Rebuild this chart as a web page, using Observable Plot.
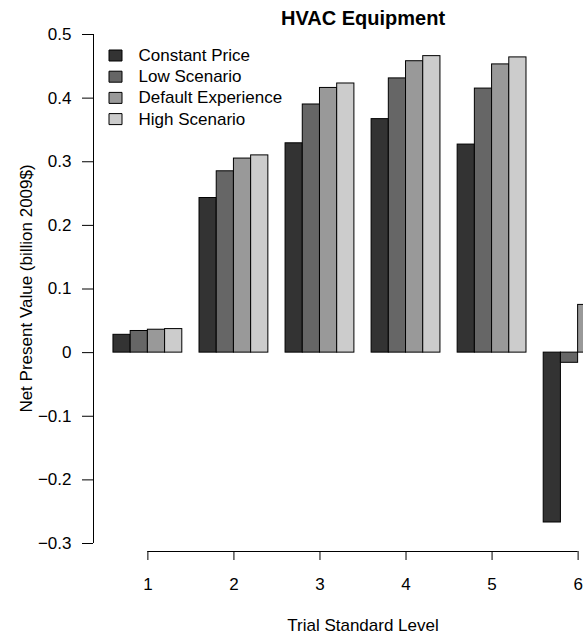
<!DOCTYPE html>
<html><head><meta charset="utf-8">
<script src="https://cdn.jsdelivr.net/npm/d3@7"></script>
<script src="https://cdn.jsdelivr.net/npm/@observablehq/plot@0.6"></script>
<style>body{margin:0;background:#fff}</style>
</head><body><div id="chart"></div>
<script>
const title = "HVAC Equipment";
const xLabel = "Trial Standard Level";
const yLabel = "Net Present Value (billion 2009$)";
const categories = ["1", "2", "3", "4", "5", "6"];
const seriesNames = ["Constant Price", "Low Scenario", "Default Experience", "High Scenario"];
const seriesColors = ["#333333", "#666666", "#999999", "#cccccc"];
const constantPrice     = [0.028, 0.243, 0.329, 0.367, 0.327, -0.267];
const lowScenario       = [0.034, 0.285, 0.390, 0.431, 0.415, -0.016];
const defaultExperience = [0.036, 0.305, 0.416, 0.458, 0.453, 0.075];
const highScenario      = [0.037, 0.310, 0.423, 0.466, 0.464, 0.090];
const yTicks = [-0.3, -0.2, -0.1, 0, 0.1, 0.2, 0.3, 0.4, 0.5];

const seriesValues = [constantPrice, lowScenario, defaultExperience, highScenario];

// R barplot(beside = TRUE) layout: bar width 1, gap of 1 between groups
const nS = seriesNames.length;
const groupWidth = nS + 1;
const rows = [];
categories.forEach((c, g) => seriesValues.forEach((vals, s) => rows.push({
  cat: c, series: seriesNames[s], value: vals[g],
  x1: g * groupWidth + 1 + s, x2: g * groupWidth + 2 + s
})));
const barMin = 1, barMax = categories.length * groupWidth;
const pad = 0.04 * (barMax - barMin);
const xDomain = [barMin - pad, barMax + pad];
const centers = categories.map((c, g) => g * groupWidth + 1 + nS / 2);
const xMid = (xDomain[0] + xDomain[1]) / 2;

const fmt = d => d === 0 ? "0" : String(d).replace("-", "\u2212");
const boxSymbol = {draw(ctx) { ctx.rect(-6.5, -5.5, 13, 11); }};

const legendMarks = [];
seriesNames.forEach((name, i) => {
  legendMarks.push(Plot.dot([name], {frameAnchor: "top-left", dx: 22, dy: 30 + 21.2 * i,
    symbol: boxSymbol, fill: seriesColors[i], stroke: "black", strokeWidth: 1}));
  legendMarks.push(Plot.text([name], {frameAnchor: "top-left", dx: 45, dy: 30 + 21.2 * i,
    text: d => d, textAnchor: "start", lineAnchor: "middle", fill: "black"}));
});

const chart = Plot.plot({
  width: 583, height: 636,
  marginLeft: 93, marginRight: 0, marginTop: 25, marginBottom: 85,
  style: {fontFamily: "'Liberation Sans', Arial, Helvetica, sans-serif", fontSize: "17px", background: "white", color: "black"},
  x: {type: "linear", domain: xDomain, range: [93, 632]},
  y: {domain: [yTicks[0], yTicks[yTicks.length - 1]], range: [543, 34]},
  color: {domain: seriesNames, range: seriesColors},
  marks: [
    Plot.rect(rows, {x1: "x1", x2: "x2", y1: 0, y2: "value", fill: "series",
      stroke: "black", strokeWidth: 1, clip: true}),
    Plot.axisY({ticks: yTicks, tickFormat: fmt, tickSize: 11, tickPadding: 11, label: null, stroke: "black", fill: "black"}),
    Plot.ruleX([xDomain[0]], {y1: yTicks[0], y2: yTicks[yTicks.length - 1], stroke: "black"}),
    Plot.axisX({ticks: centers, tickFormat: (d) => categories[centers.indexOf(d)], tickSize: 9, tickPadding: 17, label: null, stroke: "black", fill: "black"}),
    Plot.ruleY([yTicks[0]], {x1: centers[0], x2: centers[centers.length - 1], dy: 8, stroke: "black"}),
    Plot.text([title], {x: xMid, frameAnchor: "top", dy: -7.4, text: d => d,
      fontWeight: "bold", fontSize: 20, lineAnchor: "middle", fill: "black"}),
    Plot.text([xLabel], {x: xMid, frameAnchor: "bottom", dy: 73.6, text: d => d,
      textAnchor: "middle", lineAnchor: "middle", fill: "black"}),
    Plot.text([yLabel], {frameAnchor: "left", dx: -67, text: d => d, rotate: -90,
      textAnchor: "middle", lineAnchor: "middle", fill: "black"}),
    ...legendMarks
  ]
});
document.getElementById("chart").appendChild(chart);
</script>
</body></html>
